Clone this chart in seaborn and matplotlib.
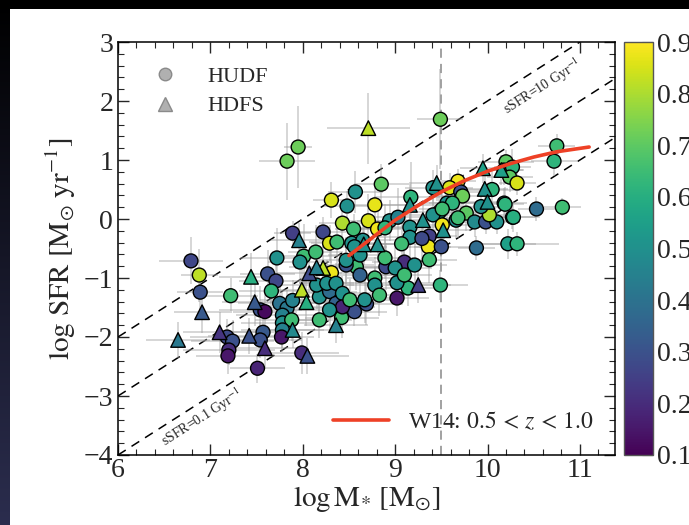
import numpy as np
import pandas as pd
import matplotlib
matplotlib.use("Agg")
import matplotlib.pyplot as plt
import seaborn as sns
from matplotlib.lines import Line2D
from matplotlib.colors import Normalize, LinearSegmentedColormap
from matplotlib.cm import ScalarMappable
from matplotlib.ticker import MultipleLocator

# ---------------- data ----------------
hudf_mass = [7.83, 7.95, 8.31, 8.48, 8.57, 8.43, 8.55, 7.89, 8.22, 8.29,
             8.53, 9.49, 10.75, 10.72, 10.20, 10.18, 10.27, 10.24, 10.32, 8.85,
             8.78, 9.41, 9.68, 9.59, 9.71, 9.73, 9.17, 9.56, 9.62, 9.48,
             9.77, 10.18, 10.27, 10.53, 10.81, 9.86, 9.98, 10.10, 10.02, 9.66,
             10.22, 10.32, 9.88, 9.49, 9.02, 8.69, 8.56, 9.14, 9.02, 8.90,
             9.10, 9.37, 9.36, 9.50, 8.58, 8.78, 6.79, 6.88, 6.89, 7.22,
             7.18, 7.24, 7.20, 7.19, 7.57, 7.54, 7.51, 7.54, 7.59, 7.72,
             8.01, 7.62, 7.71, 7.66, 7.75, 7.83, 7.89, 7.78, 7.78, 7.88,
             7.78, 7.77, 7.99, 8.31, 8.18, 8.15, 8.29, 8.36, 8.26, 8.36,
             8.43, 8.47, 8.42, 8.43, 8.47, 8.71, 8.81, 8.94, 9.03, 8.89,
             9.16, 9.41, 9.51, 9.68, 10.19, 10.28, 9.51, 9.16, 9.07, 9.29,
             8.65, 8.56, 8.37, 7.97, 8.14, 8.62, 8.89, 9.00, 8.62, 8.78,
             8.51, 8.67, 8.83, 8.18, 8.29, 9.10, 9.21, 9.37, 9.93, 10.05]
hudf_sfr = [0.98, 1.22, 0.32, 0.22, 0.46, -0.07, -0.17, -0.24, -0.22, -0.41,
            -0.41, 1.69, 1.24, 0.98, 0.97, 0.83, 0.88, 0.71, 0.61, 0.59,
            0.24, 0.53, 0.64, 0.53, 0.46, 0.39, 0.37, 0.27, 0.27, 0.12,
            0.10, 0.27, 0.03, 0.17, 0.20, -0.05, -0.05, -0.05, 0.07, -0.02,
            -0.42, -0.42, -0.49, -1.12, -1.34, -1.44, -1.57, -1.17, -1.08, -0.81,
            -0.73, -0.29, -0.47, -0.47, -0.81, -1.00, -0.71, -0.95, -1.24, -1.30,
            -2.00, -2.07, -2.22, -2.32, -1.92, -2.05, -2.53, -1.54, -1.57, -0.66,
            -0.63, -0.93, -1.05, -1.22, -1.43, -1.51, -1.38, -1.63, -1.76, -1.71,
            -1.88, -2.00, -2.27, -0.91, -1.32, -1.12, -1.23, -1.43, -1.09, -1.09,
            -1.26, -0.78, -1.67, -1.49, -0.70, -0.03, -0.17, -0.03, 0.03, -0.15,
            -0.14, 0.07, 0.17, 0.02, 0.25, 0.03, -0.10, -0.31, -0.42, -0.33,
            -0.36, -0.47, -0.39, -0.73, -0.56, -0.61, -0.66, -0.83, -0.95, -1.12,
            -1.37, -1.37, -1.29, -1.71, -1.54, -0.95, -0.78, -0.69, 0.21, 0.50]
hudf_z = [0.72, 0.72, 0.85, 0.50, 0.50, 0.80, 0.65, 0.25, 0.27, 0.85,
          0.50, 0.72, 0.65, 0.62, 0.70, 0.20, 0.62, 0.70, 0.85, 0.70,
          0.87, 0.50, 0.88, 0.85, 0.30, 0.72, 0.62, 0.50, 0.62, 0.50,
          0.70, 0.52, 0.55, 0.38, 0.65, 0.48, 0.30, 0.50, 0.80, 0.50,
          0.55, 0.62, 0.38, 0.62, 0.15, 0.30, 0.30, 0.62, 0.50, 0.28,
          0.20, 0.25, 0.88, 0.30, 0.65, 0.65, 0.27, 0.82, 0.30, 0.65,
          0.28, 0.30, 0.20, 0.15, 0.32, 0.30, 0.18, 0.30, 0.12, 0.50,
          0.65, 0.30, 0.27, 0.62, 0.40, 0.42, 0.45, 0.45, 0.50, 0.65,
          0.45, 0.15, 0.20, 0.88, 0.50, 0.50, 0.38, 0.35, 0.50, 0.50,
          0.50, 0.30, 0.65, 0.18, 0.50, 0.85, 0.88, 0.50, 0.45, 0.62,
          0.50, 0.50, 0.65, 0.65, 0.62, 0.60, 0.88, 0.50, 0.65, 0.28,
          0.50, 0.50, 0.65, 0.50, 0.65, 0.50, 0.65, 0.50, 0.35, 0.50,
          0.65, 0.50, 0.65, 0.65, 0.50, 0.65, 0.50, 0.65, 0.50, 0.62]
hudf_xerr = [0.30, 0.15, 0.20, 0.25, 0.30, 0.25, 0.20, 0.20, 0.25, 0.20,
             0.30, 0.25, 0.20, 0.25, 0.30, 0.20, 0.20, 0.25, 0.20, 0.30,
             0.35, 0.30, 0.20, 0.25, 0.30, 0.30, 0.40, 0.30, 0.25, 0.35,
             0.30, 0.25, 0.30, 0.20, 0.20, 0.25, 0.20, 0.25, 0.20, 0.40,
             0.30, 0.45, 0.20, 0.30, 0.35, 0.40, 0.35, 0.30, 0.45, 0.30,
             0.35, 0.30, 0.25, 0.30, 0.35, 0.30, 0.35, 0.20, 0.25, 0.30,
             0.40, 0.45, 0.50, 0.35, 0.40, 0.45, 0.30, 0.45, 0.35, 0.40,
             0.35, 0.30, 0.40, 0.35, 0.45, 0.40, 0.35, 0.50, 0.45, 0.40,
             0.45, 0.35, 0.40, 0.30, 0.35, 0.40, 0.30, 0.45, 0.30, 0.40,
             0.35, 0.30, 0.40, 0.35, 0.30, 0.30, 0.25, 0.35, 0.30, 0.35,
             0.35, 0.30, 0.25, 0.30, 0.20, 0.25, 0.30, 0.35, 0.30, 0.25,
             0.40, 0.35, 0.30, 0.35, 0.30, 0.35, 0.30, 0.40, 0.35, 0.30,
             0.35, 0.40, 0.30, 0.35, 0.40, 0.30, 0.35, 0.30, 0.25, 0.30]
hudf_yerr = [0.65, 0.70, 0.30, 0.25, 0.35, 0.30, 0.25, 0.20, 0.25, 0.30,
             0.20, 0.85, 0.20, 0.25, 0.20, 0.25, 0.30, 0.25, 0.20, 0.35,
             0.40, 0.30, 0.20, 0.25, 0.30, 0.35, 0.60, 0.30, 0.25, 0.35,
             0.30, 0.25, 0.20, 0.20, 0.15, 0.25, 0.20, 0.20, 0.25, 0.30,
             0.25, 0.20, 0.20, 0.25, 0.30, 0.35, 0.25, 0.30, 0.35, 0.40,
             0.35, 0.30, 0.35, 0.30, 0.40, 0.35, 0.40, 0.45, 0.35, 0.30,
             0.30, 0.35, 0.25, 0.30, 0.35, 0.30, 0.25, 0.40, 0.35, 0.50,
             0.55, 0.40, 0.35, 0.30, 0.35, 0.30, 0.35, 0.40, 0.30, 0.35,
             0.30, 0.25, 0.35, 0.45, 0.35, 0.40, 0.30, 0.35, 0.40, 0.35,
             0.30, 0.45, 0.35, 0.30, 0.40, 0.45, 0.40, 0.35, 0.50, 0.40,
             0.35, 0.40, 0.45, 0.35, 0.30, 0.25, 0.40, 0.35, 0.40, 0.35,
             0.40, 0.35, 0.40, 0.35, 0.45, 0.40, 0.35, 0.40, 0.35, 0.30,
             0.35, 0.40, 0.35, 0.30, 0.35, 0.40, 0.35, 0.40, 0.30, 0.35]

hdfs_mass = [7.96, 8.71, 9.95, 10.15, 9.45, 9.97, 10.00, 9.16, 9.25, 6.91,
             6.65, 7.10, 7.42, 7.59, 7.48, 7.89, 8.05, 8.07, 8.22, 7.99,
             8.04, 8.36, 8.15, 7.44, 9.30, 9.52, 8.66, 8.81]
hdfs_sfr = [-0.36, 1.54, 0.86, 0.83, 0.61, 0.51, 0.29, 0.24, -1.12, -1.58,
            -2.05, -1.92, -1.98, -2.19, -1.41, -1.88, -2.32, -0.92, -0.83, -1.20,
            -1.41, -1.80, -0.82, -0.98, -0.02, -0.19, -0.43, -0.43]
hdfs_z = [0.45, 0.82, 0.55, 0.55, 0.50, 0.50, 0.50, 0.50, 0.25, 0.32,
          0.42, 0.22, 0.30, 0.20, 0.32, 0.48, 0.30, 0.28, 0.82, 0.82,
          0.60, 0.45, 0.45, 0.60, 0.50, 0.50, 0.50, 0.50]
hdfs_xerr = [0.30, 0.45, 0.25, 0.25, 0.30, 0.25, 0.25, 0.30, 0.35, 0.30,
             0.35, 0.40, 0.45, 0.40, 0.35, 0.40, 0.45, 0.35, 0.30, 0.35,
             0.40, 0.35, 0.30, 0.35, 0.30, 0.30, 0.35, 0.30]
hdfs_yerr = [0.30, 0.60, 0.25, 0.25, 0.30, 0.30, 0.25, 0.35, 0.30, 0.35,
             0.30, 0.35, 0.30, 0.35, 0.40, 0.30, 0.30, 0.40, 0.35, 0.35,
             0.40, 0.30, 0.35, 0.40, 0.30, 0.30, 0.35, 0.30]

# Whitaker+14 relation (0.5<z<1.0)
w14_mass = [8.5, 8.75, 9.0, 9.25, 9.5, 9.75, 10.0, 10.25, 10.5, 10.75, 11.1]
w14_sfr = [-0.62, -0.32, -0.02, 0.23, 0.46, 0.65, 0.81, 0.94, 1.05, 1.14, 1.22]

ssfr_values = [10.0, 1.0, 0.1]          # Gyr^-1 reference lines
mass_cut = 9.5
z_ticks = [0.1, 0.2, 0.3, 0.4, 0.5, 0.6, 0.7, 0.8, 0.9]

# ---------------- style ----------------
sns.set_style("ticks")
plt.rcParams["font.family"] = ["Liberation Serif", "DejaVu Serif"]
plt.rcParams["mathtext.fontset"] = "stix"

W, H = 689, 525
fig = plt.figure(figsize=(W / 100, H / 100), dpi=100)
fig.patch.set_facecolor("white")

# dark slide border (left gradient + top strip)
bax = fig.add_axes([0, 0, 10 / W, 1])
grad = np.linspace(0, 1, 256).reshape(-1, 1)
bcmap = LinearSegmentedColormap.from_list("b", ["#000000", "#2b2d4e"])
bax.imshow(grad, aspect="auto", cmap=bcmap, extent=[0, 1, 1, 0])
bax.set_axis_off()
tax = fig.add_axes([0, 1 - 9 / H, 1, 9 / H])
tax.set_facecolor("black")
tax.set_xticks([]); tax.set_yticks([])
for s in tax.spines.values():
    s.set_visible(False)

ax = fig.add_axes([118 / W, (H - 455) / H, (615 - 118) / W, (455 - 42) / H])
xmin, xmax = 6.0, 11.38
ax.set_xlim(xmin, xmax)
ax.set_ylim(-4, 3)

norm = Normalize(0.1, 0.9)
cmap = "viridis"

df_u = pd.DataFrame({"mass": hudf_mass, "sfr": hudf_sfr, "z": hudf_z,
                     "xerr": hudf_xerr, "yerr": hudf_yerr})
df_s = pd.DataFrame({"mass": hdfs_mass, "sfr": hdfs_sfr, "z": hdfs_z,
                     "xerr": hdfs_xerr, "yerr": hdfs_yerr})

for d in (df_u, df_s):
    ax.errorbar(d["mass"], d["sfr"], xerr=d["xerr"], yerr=d["yerr"], fmt="none",
                ecolor="#a0a0a0", alpha=0.5, elinewidth=1.2, capsize=0, zorder=1)

# reference lines
xs = np.array([xmin, xmax])
for s in ssfr_values:
    ax.plot(xs, xs + np.log10(s) - 9, ls=(0, (6, 4.5)), color="black", lw=1.1, zorder=0.5)
ax.axvline(mass_cut, ls=(0, (6, 4)), color="#888888", lw=1.1, zorder=0.5)

sns.scatterplot(data=df_u, x="mass", y="sfr", hue="z", hue_norm=norm, palette=cmap,
                marker="o", s=100, edgecolor="black", linewidth=1.0, legend=False,
                ax=ax, zorder=3)
sns.scatterplot(data=df_s, x="mass", y="sfr", hue="z", hue_norm=norm, palette=cmap,
                marker="^", s=110, edgecolor="black", linewidth=1.0, legend=False,
                ax=ax, zorder=3)

sns.lineplot(x=w14_mass, y=w14_sfr, color="#ee4126", lw=2.6, ax=ax, zorder=4)

# line labels
ax.text(10.59, 2.25, r"sSFR=10 Gyr$^{-1}$", fontsize=10, rotation=45,
        transform_rotates_text=True, ha="center", va="center",
        rotation_mode="anchor", transform=ax.transData)
ax.text(6.91, -3.36, r"sSFR=0.1 Gyr$^{-1}$", fontsize=10, rotation=45,
        transform_rotates_text=True, ha="center", va="center",
        rotation_mode="anchor", transform=ax.transData)

# legends
h1 = [Line2D([], [], marker="o", ls="none", color="#b0b0b0", markeredgecolor="#8a8a8a",
             markersize=9),
      Line2D([], [], marker="^", ls="none", color="#b0b0b0", markeredgecolor="#8a8a8a",
             markersize=10)]
leg1 = ax.legend(h1, ["HUDF", "HDFS"], loc="upper left", frameon=False, fontsize=16,
                 handletextpad=0.9, borderaxespad=0.6, labelspacing=0.4,
                 borderpad=0.5, handlelength=2.0)
ax.add_artist(leg1)
h2 = [Line2D([], [], color="#ee4126", lw=2.6)]
ax.legend(h2, [r"W14: $0.5\,<\,z\,<\,1.0$"], loc="lower right", frameon=False, fontsize=17,
          handlelength=2.4, handletextpad=0.8, borderaxespad=0.5)

ax.set_xlabel(r"$\log\mathrm{M}_{*}\ [\mathrm{M}_{\odot}]$", fontsize=21, labelpad=1)
ax.set_ylabel(r"$\log\,\mathrm{SFR}\ [\mathrm{M}_{\odot}\ \mathrm{yr}^{-1}]$", fontsize=21, labelpad=4)

ax.xaxis.set_major_locator(MultipleLocator(1))
ax.xaxis.set_minor_locator(MultipleLocator(0.2))
ax.yaxis.set_major_locator(MultipleLocator(1))
ax.yaxis.set_minor_locator(MultipleLocator(0.2))
ax.tick_params(which="both", direction="in", top=True, right=True, labelsize=20)
ax.tick_params(which="major", length=8, width=1)
ax.tick_params(which="minor", length=4, width=0.8)
ax.tick_params(axis="x", pad=2)
for s in ax.spines.values():
    s.set_linewidth(1.1)
    s.set_color("black")

cax = fig.add_axes([624 / W, (H - 455) / H, 29 / W, (455 - 42) / H])
cb = fig.colorbar(ScalarMappable(norm=norm, cmap=cmap), cax=cax)
cb.set_ticks(z_ticks)
cb.ax.yaxis.set_minor_locator(MultipleLocator(0.02))
cb.ax.tick_params(which="both", direction="in", labelsize=20, pad=3)
cb.ax.tick_params(which="major", length=8)
cb.ax.tick_params(which="minor", length=4)
cb.outline.set_edgecolor("#555555")
cb.outline.set_linewidth(1.0)

fig.savefig("out.png", dpi=100)
